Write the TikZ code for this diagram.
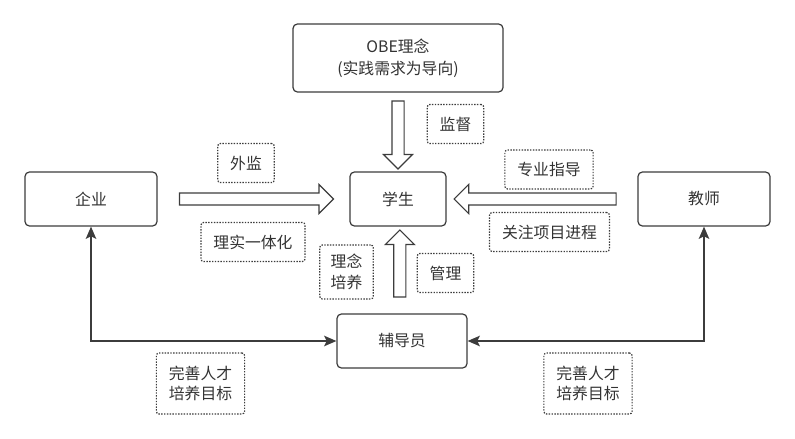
\documentclass[tikz,border=0pt]{standalone}
\usepackage{fontspec}
\newfontfamily\cjk{Noto Sans CJK SC}
\usetikzlibrary{shapes,arrows.meta,positioning,calc}
\usepackage{xcolor}
\definecolor{linegray}{HTML}{3C3C3C}
\definecolor{textgray}{HTML}{333333}

\begin{document}
\begin{tikzpicture}[
    x=0.02cm, y=-0.02cm,
    every node/.style={font=\cjk\fontsize{9}{11.5}\selectfont, text=textgray},
    mainbox/.style={rectangle, draw=linegray, line width=0.7pt, fill=white, rounded corners=2.5pt, minimum width=2.64cm, minimum height=1.08cm, align=center},
    tagbox/.style={rectangle, draw=linegray, dash pattern=on 0.8pt off 0.8pt, line width=0.7pt, rounded corners=1.5pt, inner xsep=0.25cm, minimum height=0.78cm, align=center},
    bigarrow/.style={single arrow, draw=linegray, line width=0.65pt, fill=white, inner xsep=0pt, inner ysep=0.11cm, minimum width=0.56cm, single arrow head extend=0.17cm},
    arrow/.style={<->, >={Stealth[length=7pt,width=6pt,inset=1.5pt]}, draw=linegray, line width=0.8pt}
]
\useasboundingbox (0,0) rectangle (795,439);

% Main boxes
\node[mainbox, minimum width=4.2cm, minimum height=1.36cm] (obe) at (398,58) {OBE理念\\[1pt](实践需求为导向)};
\node[mainbox, minimum width=1.92cm] (stu) at (398,199) {学生};
\node[mainbox] (qy) at (91,199) {企业};
\node[mainbox] (js) at (704,199) {教师};
\node[mainbox, minimum width=2.6cm] (fdy) at (402,341) {辅导员};

% Block arrows into the student box
\node[bigarrow, rotate=-90, minimum height=1.36cm] (down) at ($(obe.south)!0.5!(stu.north)$) {};
\node[bigarrow, minimum height=3.08cm] (fromqy) at ($(qy.east)!0.5!(stu.west)$) {};
\node[bigarrow, rotate=180, minimum height=3.24cm] (fromjs) at ($(stu.east)!0.48!(js.west)$) {};
\node[bigarrow, rotate=90, minimum height=1.34cm] (up) at ($(stu.south)!0.46!(fdy.north)$) {};

% Dotted labels
\node[tagbox] (jd) at (455.5,124) {监督};
\node[tagbox] (wj) at (246,163) {外监};
\node[tagbox] (lsyth) at (253,242) {理实一体化};
\node[tagbox] (zyzd) at (549,169.5) {专业指导};
\node[tagbox] (gzxm) at (549.5,232) {关注项目进程};
\node[tagbox, inner xsep=0.22cm, minimum height=1.08cm] (lnpy) at (346.5,272) {理念\\培养};
\node[tagbox] (gl) at (445.5,273) {管理};
\node[tagbox, minimum height=1.22cm] (wsl) at (200.5,383.5) {完善人才\\培养目标};
\node[tagbox, minimum height=1.22cm] (wsr) at (588,383.5) {完善人才\\培养目标};

% Connectors to the counsellor
\draw[arrow] (qy.south) |- (fdy.west);
\draw[arrow] (js.south) |- (fdy.east);

\end{tikzpicture}
\end{document}
